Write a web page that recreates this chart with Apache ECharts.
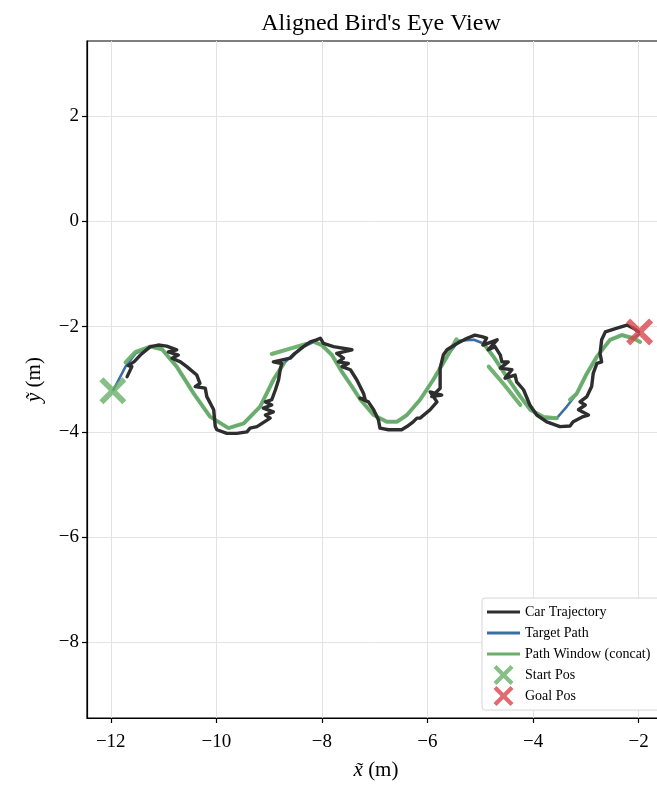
<!DOCTYPE html>
<html>
<head>
<meta charset="utf-8">
<title>Aligned Bird's Eye View</title>
<script src="https://cdn.jsdelivr.net/npm/echarts@6.0.0/dist/echarts.min.js"></script>
<style>
  html, body { margin: 0; padding: 0; background: #fff; }
  #main { width: 657px; height: 785px; }
</style>
</head>
<body>
<div id="main"></div>
<script>
// tick values
var xTicks = [-12, -10, -8, -6, -4, -2];
var yTicks = [-8, -6, -4, -2, 0, 2];

// car trajectory (noisy)
var carTrajectory = [
  [-11.69, -2.95], [-11.60, -2.76], [-11.67, -2.74], [-11.55, -2.66], [-11.44, -2.54], [-11.25, -2.38],
  [-11.10, -2.35], [-10.94, -2.37], [-10.75, -2.44], [-10.91, -2.48], [-10.72, -2.54], [-10.84, -2.60],
  [-10.68, -2.67], [-10.56, -2.76], [-10.37, -2.92], [-10.31, -3.08], [-10.40, -3.14], [-10.21, -3.17],
  [-10.18, -3.33], [-10.05, -3.58], [-10.02, -3.90], [-9.99, -3.96], [-9.80, -4.03], [-9.61, -4.03],
  [-9.42, -4.00], [-9.36, -3.93], [-9.23, -3.90], [-8.98, -3.74], [-9.07, -3.68], [-8.92, -3.62],
  [-9.11, -3.55], [-8.95, -3.49], [-9.07, -3.43], [-8.95, -3.39], [-8.88, -3.20], [-8.82, -3.01],
  [-8.79, -2.82], [-8.76, -2.70], [-8.92, -2.67], [-8.60, -2.60], [-8.51, -2.51], [-8.35, -2.38],
  [-8.22, -2.29], [-8.10, -2.25], [-8.03, -2.22], [-7.97, -2.32], [-7.78, -2.38], [-7.43, -2.44],
  [-7.72, -2.51], [-7.59, -2.60], [-7.69, -2.67], [-7.50, -2.70], [-7.62, -2.76], [-7.46, -2.82],
  [-7.34, -3.01], [-7.21, -3.27], [-7.18, -3.39], [-7.28, -3.36], [-7.12, -3.43], [-7.02, -3.58],
  [-6.93, -3.77], [-6.90, -3.93], [-6.74, -3.96], [-6.61, -3.96], [-6.49, -3.96], [-6.39, -3.90],
  [-6.27, -3.81], [-6.20, -3.74], [-6.14, -3.74], [-5.95, -3.58], [-5.82, -3.43], [-5.95, -3.24],
  [-5.73, -3.30], [-5.92, -3.33], [-5.76, -3.17], [-5.76, -2.79], [-5.70, -2.54], [-5.63, -2.44],
  [-5.44, -2.32], [-5.25, -2.22], [-5.10, -2.16], [-4.97, -2.19], [-4.88, -2.22], [-4.95, -2.35],
  [-4.68, -2.25], [-4.85, -2.44], [-4.72, -2.38], [-4.62, -2.54], [-4.59, -2.67], [-4.47, -2.67],
  [-4.62, -2.79], [-4.40, -2.82], [-4.53, -2.98], [-4.34, -2.92], [-4.31, -3.05], [-4.18, -3.20],
  [-4.06, -3.49], [-3.93, -3.68], [-3.74, -3.81], [-3.49, -3.90], [-3.30, -3.89], [-3.24, -3.81],
  [-3.05, -3.71], [-2.95, -3.68], [-3.14, -3.58], [-3.01, -3.49], [-3.11, -3.43], [-2.98, -3.33],
  [-2.89, -3.14], [-2.86, -2.89], [-2.79, -2.70], [-2.70, -2.67], [-2.73, -2.51], [-2.70, -2.25],
  [-2.63, -2.10], [-2.41, -2.03], [-2.22, -1.97], [-2.10, -2.03], [-2.00, -2.10]
];

// target path
var targetPath = [
  [-11.96, -3.22], [-11.72, -2.76], [-11.53, -2.51], [-11.25, -2.38], [-11.03, -2.43], [-10.75, -2.76],
  [-10.43, -3.27], [-10.12, -3.71], [-9.77, -3.93], [-9.48, -3.84], [-9.17, -3.52], [-8.88, -2.95],
  [-8.72, -2.70], [-8.53, -2.51], [-8.34, -2.38], [-8.15, -2.29], [-8.00, -2.35], [-7.81, -2.54],
  [-7.62, -2.86], [-7.43, -3.14], [-7.27, -3.39], [-7.02, -3.68], [-6.77, -3.81], [-6.58, -3.81],
  [-6.39, -3.68], [-6.14, -3.39], [-5.89, -3.01], [-5.63, -2.57], [-5.41, -2.27], [-5.12, -2.25],
  [-4.94, -2.32], [-4.75, -2.57], [-4.50, -2.95], [-4.24, -3.33], [-4.05, -3.58], [-3.80, -3.74],
  [-3.55, -3.74], [-3.36, -3.52], [-3.17, -3.27], [-2.98, -2.89], [-2.79, -2.57], [-2.54, -2.25],
  [-2.32, -2.16], [-2.10, -2.22], [-1.97, -2.13]
];

// path windows (concatenated pieces)
var window1 = [
  [-11.72, -2.68], [-11.53, -2.48], [-11.25, -2.38], [-11.03, -2.43], [-10.75, -2.76], [-10.43, -3.27],
  [-10.12, -3.71], [-9.77, -3.93], [-9.48, -3.84], [-9.17, -3.52], [-8.92, -3.01], [-8.72, -2.70]
];
var window2 = [[-8.95, -2.52], [-8.57, -2.41], [-8.30, -2.33]];
var window3 = [
  [-8.15, -2.29], [-8.00, -2.35], [-7.81, -2.54], [-7.62, -2.86], [-7.43, -3.14], [-7.27, -3.39],
  [-7.02, -3.68], [-6.77, -3.81], [-6.58, -3.81], [-6.39, -3.68], [-6.14, -3.39], [-5.89, -3.01],
  [-5.63, -2.57], [-5.45, -2.24]
];
var window4 = [
  [-4.94, -2.32], [-4.75, -2.57], [-4.50, -2.95], [-4.24, -3.33], [-4.05, -3.58], [-3.80, -3.72],
  [-3.55, -3.74]
];
var window5 = [[-4.84, -2.76], [-4.55, -3.10], [-4.24, -3.49]];
var window6 = [
  [-3.30, -3.39], [-3.17, -3.27], [-2.98, -2.89], [-2.79, -2.57], [-2.54, -2.25], [-2.32, -2.16],
  [-2.10, -2.22], [-1.97, -2.29]
];

var startPos = [[-11.96, -3.22]];
var goalPos = [[-1.98, -2.10]];

var serif = 'Liberation Serif';
var crossIcon = 'path://M3,0 L10,7 L17,0 L20,3 L13,10 L20,17 L17,20 L10,13 L3,20 L0,17 L7,10 L0,3 Z';
// bar in the middle, tiny corner specks keep the full 33x20 box
var lineIcon = 'path://M0,0 L0.01,0 L0,0.01 Z M0,8.5 L33,8.5 L33,11.5 L0,11.5 Z M33,20 L32.99,20 L33,19.99 Z';
var green = '#6aae6a';
var dark = '#2e2e2e';
var blue = '#3b6ea5';
var red = '#d8464c';

function minus(v) {
  return String(v).replace('-', '\u2212');
}

function windowSeries(data) {
  return {
    name: 'Path Window (concat)',
    type: 'line',
    data: data,
    symbol: 'none',
    z: 3,
    lineStyle: { color: green, width: 4, opacity: 0.95, cap: 'round' },
    itemStyle: { color: green }
  };
}

var myChart = echarts.init(document.getElementById('main'));

var option = {
  animation: false,
  backgroundColor: '#fff',
  textStyle: { fontFamily: serif },
  title: {
    text: "Aligned Bird's Eye View",
    left: 376,
    top: 7,
    textAlign: 'center',
    textStyle: { fontFamily: serif, fontSize: 24, fontWeight: 'normal', color: '#000' }
  },
  grid: {
    left: 87,
    top: 41,
    width: 578,
    bottom: 67,
    show: true,
    borderColor: '#000',
    borderWidth: 1.2,
    outerBoundsMode: 'none',
    containLabel: false
  },
  legend: {
    orient: 'vertical',
    left: 482,
    top: 598,
    padding: [4, 12, 4, 5],
    itemWidth: 33,
    itemHeight: 20,
    itemGap: 1,
    backgroundColor: '#fff',
    borderColor: '#d6d6d6',
    borderWidth: 1,
    borderRadius: 3,
    textStyle: { fontFamily: serif, fontSize: 14, color: '#000' },
    data: [
      { name: 'Car Trajectory', icon: lineIcon, itemStyle: { color: dark } },
      { name: 'Target Path', icon: lineIcon, itemStyle: { color: blue } },
      { name: 'Path Window (concat)', icon: lineIcon, itemStyle: { color: green } },
      { name: 'Start Pos', icon: crossIcon },
      { name: 'Goal Pos', icon: crossIcon }
    ]
  },
  xAxis: {
    type: 'value',
    min: -12.45,
    max: -1.5,
    name: '{i|x\u0303} (m)',
    nameLocation: 'middle',
    nameGap: 42,
    nameTextStyle: {
      fontFamily: serif, fontSize: 21, color: '#000',
      rich: { i: { fontFamily: serif, fontSize: 21, fontStyle: 'italic', color: '#000' } }
    },
    axisLine: { show: true, onZero: false, lineStyle: { color: '#000', width: 1.2 } },
    axisTick: { show: true, length: 5, lineStyle: { color: '#000', width: 1.2 }, customValues: xTicks },
    axisLabel: { fontFamily: serif, fontSize: 19, color: '#000', margin: 15, customValues: xTicks, formatter: minus },
    splitLine: { show: true, lineStyle: { color: '#e3e3e3', width: 1 } }
  },
  yAxis: {
    type: 'value',
    min: -9.44,
    max: 3.43,
    name: '{i|y\u0303} (m)',
    nameLocation: 'middle',
    nameGap: 42,
    nameRotate: 90,
    nameTextStyle: {
      fontFamily: serif, fontSize: 21, color: '#000',
      rich: { i: { fontFamily: serif, fontSize: 21, fontStyle: 'italic', color: '#000' } }
    },
    axisLine: { show: true, onZero: false, lineStyle: { color: '#000', width: 1.2 } },
    axisTick: { show: true, length: 5, lineStyle: { color: '#000', width: 1.2 }, customValues: yTicks },
    axisLabel: { fontFamily: serif, fontSize: 19, color: '#000', margin: 8, customValues: yTicks, formatter: minus },
    splitLine: { show: true, lineStyle: { color: '#e3e3e3', width: 1 } }
  },
  series: [
    {
      name: 'Target Path',
      type: 'line',
      data: targetPath,
      symbol: 'none',
      z: 2,
      lineStyle: { color: blue, width: 2.5 },
      itemStyle: { color: blue }
    },
    windowSeries(window1),
    windowSeries(window2),
    windowSeries(window3),
    windowSeries(window4),
    windowSeries(window5),
    windowSeries(window6),
    {
      name: 'Car Trajectory',
      type: 'line',
      data: carTrajectory,
      symbol: 'none',
      z: 4,
      lineStyle: { color: dark, width: 3.4, join: 'round', cap: 'round' },
      itemStyle: { color: dark }
    },
    {
      name: 'Start Pos',
      type: 'scatter',
      data: startPos,
      symbol: crossIcon,
      symbolSize: 27,
      z: 5,
      itemStyle: { color: green }
    },
    {
      name: 'Goal Pos',
      type: 'scatter',
      data: goalPos,
      symbol: crossIcon,
      symbolSize: 27,
      z: 5,
      itemStyle: { color: red }
    }
  ]
};
myChart.setOption(option);
</script>
</body>
</html>
